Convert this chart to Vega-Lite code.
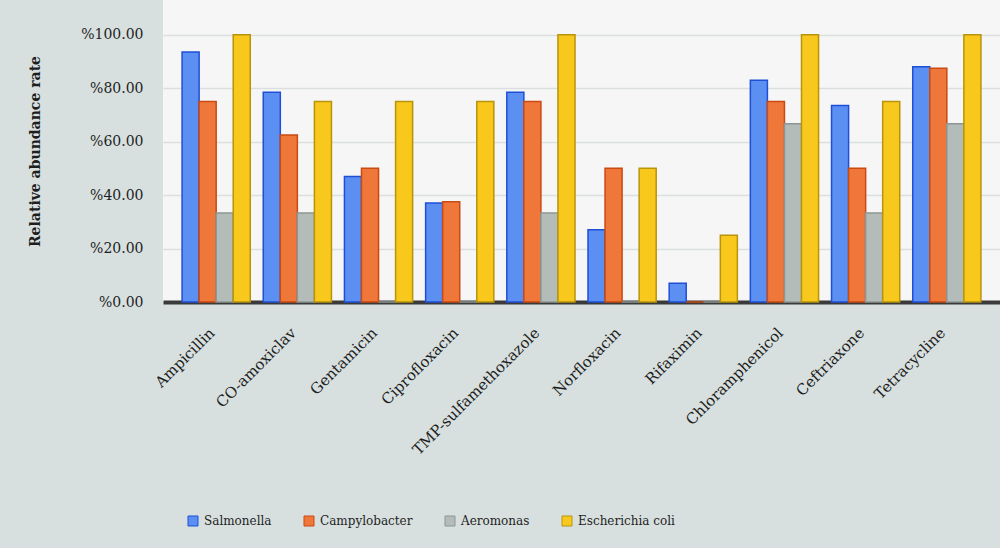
{
  "$schema": "https://vega.github.io/schema/vega-lite/v6.json",
  "width": 837,
  "height": 302,
  "autosize": {"type": "none"},
  "padding": {"left": 163, "top": 0, "right": 0, "bottom": 246},
  "background": "#d7e0de",
  "data": {
    "values": [
      {"drug": "Ampicillin", "organism": "Salmonella", "value": 93.5},
      {"drug": "Ampicillin", "organism": "Campylobacter", "value": 75},
      {"drug": "Ampicillin", "organism": "Aeromonas", "value": 33.3},
      {"drug": "Ampicillin", "organism": "Escherichia coli", "value": 100},
      {"drug": "CO-amoxiclav", "organism": "Salmonella", "value": 78.5},
      {"drug": "CO-amoxiclav", "organism": "Campylobacter", "value": 62.5},
      {"drug": "CO-amoxiclav", "organism": "Aeromonas", "value": 33.3},
      {"drug": "CO-amoxiclav", "organism": "Escherichia coli", "value": 75},
      {"drug": "Gentamicin", "organism": "Salmonella", "value": 47},
      {"drug": "Gentamicin", "organism": "Campylobacter", "value": 50},
      {"drug": "Gentamicin", "organism": "Aeromonas", "value": 0},
      {"drug": "Gentamicin", "organism": "Escherichia coli", "value": 75},
      {"drug": "Ciprofloxacin", "organism": "Salmonella", "value": 37},
      {"drug": "Ciprofloxacin", "organism": "Campylobacter", "value": 37.5},
      {"drug": "Ciprofloxacin", "organism": "Aeromonas", "value": 0},
      {"drug": "Ciprofloxacin", "organism": "Escherichia coli", "value": 75},
      {"drug": "TMP-sulfamethoxazole", "organism": "Salmonella", "value": 78.5},
      {"drug": "TMP-sulfamethoxazole", "organism": "Campylobacter", "value": 75},
      {"drug": "TMP-sulfamethoxazole", "organism": "Aeromonas", "value": 33.3},
      {"drug": "TMP-sulfamethoxazole", "organism": "Escherichia coli", "value": 100},
      {"drug": "Norfloxacin", "organism": "Salmonella", "value": 27},
      {"drug": "Norfloxacin", "organism": "Campylobacter", "value": 50},
      {"drug": "Norfloxacin", "organism": "Aeromonas", "value": 0},
      {"drug": "Norfloxacin", "organism": "Escherichia coli", "value": 50},
      {"drug": "Rifaximin", "organism": "Salmonella", "value": 7},
      {"drug": "Rifaximin", "organism": "Campylobacter", "value": 0},
      {"drug": "Rifaximin", "organism": "Aeromonas", "value": 0},
      {"drug": "Rifaximin", "organism": "Escherichia coli", "value": 25},
      {"drug": "Chloramphenicol", "organism": "Salmonella", "value": 83},
      {"drug": "Chloramphenicol", "organism": "Campylobacter", "value": 75},
      {"drug": "Chloramphenicol", "organism": "Aeromonas", "value": 66.7},
      {"drug": "Chloramphenicol", "organism": "Escherichia coli", "value": 100},
      {"drug": "Ceftriaxone", "organism": "Salmonella", "value": 73.5},
      {"drug": "Ceftriaxone", "organism": "Campylobacter", "value": 50},
      {"drug": "Ceftriaxone", "organism": "Aeromonas", "value": 33.3},
      {"drug": "Ceftriaxone", "organism": "Escherichia coli", "value": 75},
      {"drug": "Tetracycline", "organism": "Salmonella", "value": 88},
      {"drug": "Tetracycline", "organism": "Campylobacter", "value": 87.5},
      {"drug": "Tetracycline", "organism": "Aeromonas", "value": 66.7},
      {"drug": "Tetracycline", "organism": "Escherichia coli", "value": 100}
    ]
  },
  "mark": {"type": "bar", "strokeWidth": 1.5},
  "encoding": {
    "x": {
      "field": "drug",
      "type": "nominal",
      "sort": null,
      "scale": {"paddingInner": 0.16, "paddingOuter": 0.235},
      "axis": {
        "title": null,
        "labelAngle": -45,
        "labelAlign": "right",
        "labelBaseline": "middle",
        "labelPadding": 28,
        "labelOffset": -4,
        "labelFontSize": 15,
        "labelColor": "#1e1e1e",
        "ticks": false,
        "domainColor": "#3a3a3a",
        "domainWidth": 4
      }
    },
    "xOffset": {
      "field": "organism",
      "type": "nominal",
      "sort": ["Salmonella", "Campylobacter", "Aeromonas", "Escherichia coli"]
    },
    "y": {
      "field": "value",
      "type": "quantitative",
      "scale": {"domain": [0, 113]},
      "axis": {
        "title": "Relative abundance rate",
        "titleFontSize": 14,
        "titleFontWeight": "bold",
        "titleColor": "#1e1e1e",
        "titlePadding": 38,
        "values": [0, 20, 40, 60, 80, 100],
        "labelExpr": "'%' + format(datum.value, '.2f')",
        "labelFontSize": 14,
        "labelColor": "#1e1e1e",
        "labelPadding": 20,
        "ticks": false,
        "domain": false,
        "grid": true,
        "gridColor": "#dcdfdf",
        "gridWidth": 1.5
      }
    },
    "color": {
      "field": "organism",
      "type": "nominal",
      "scale": {
        "domain": ["Salmonella", "Campylobacter", "Aeromonas", "Escherichia coli"],
        "range": ["#5b8ff2", "#f0773a", "#b4bcba", "#f8c81c"]
      },
      "legend": {
        "title": null,
        "orient": "none",
        "direction": "horizontal",
        "legendX": 24,
        "legendY": 515,
        "padding": 0,
        "symbolType": "square",
        "symbolSize": 100,
        "symbolStrokeWidth": 1,
        "labelFontSize": 12,
        "labelColor": "#1e1e1e",
        "labelOffset": 5,
        "columnPadding": 30
      }
    },
    "stroke": {
      "field": "organism",
      "type": "nominal",
      "scale": {
        "domain": ["Salmonella", "Campylobacter", "Aeromonas", "Escherichia coli"],
        "range": ["#1f4fd6", "#c94a12", "#8c9694", "#b8940a"]
      },
      "legend": null
    }
  },
  "config": {
    "font": "DejaVu Serif",
    "view": {"fill": "#f6f6f6", "stroke": null}
  }
}
